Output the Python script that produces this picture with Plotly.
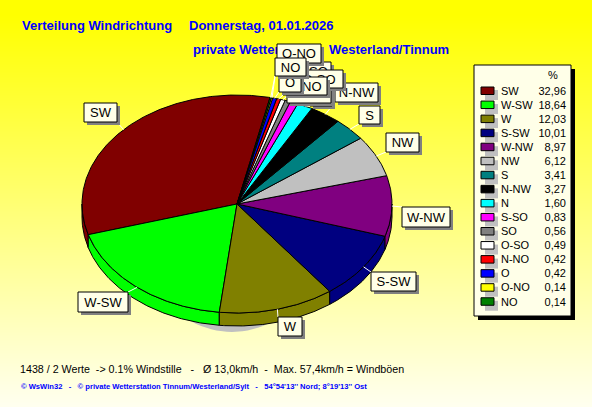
import math
import plotly.graph_objects as go

categories = ["SW","W-SW","W","S-SW","W-NW","NW","S","N-NW","N","S-SO","SO","O-SO","N-NO","O","O-NO","NO"]
values = [32.96,18.64,12.03,10.01,8.97,6.12,3.41,3.27,1.60,0.83,0.56,0.49,0.42,0.42,0.14,0.14]
value_labels = ["32,96","18,64","12,03","10,01","8,97","6,12","3,41","3,27","1,60","0,83","0,56","0,49","0,42","0,42","0,14","0,14"]
colors = ["#800000","#00ff00","#808000","#000080","#800080","#c0c0c0","#008080","#000000",
          "#00ffff","#ff00ff","#808080","#ffffff","#ff0000","#0000ff","#ffff00","#008000"]
label_boxes = {
    "SW":(84,103,117,122),"W-SW":(78,292,128,312),"W":(278,317,302,336),"S-SW":(371,272,416,291),
    "W-NW":(402,207,450,227),"NW":(386,133,419,152),"S":(359,106,380,124),"N-NW":(335,83,378,102),
    "N":(310,88,332,106),"S-SO":(287,84,331,103),"SO":(306,62,331,81),"O-SO":(295,70,343,88),
    "N-NO":(283,77,327,95),"O":(279,73,301,92),"O-NO":(277,44,321,63),"NO":(275,58,306,76),
}
CX, CY, RX, RY, DEPTH = 237, 204, 155, 109, 13
START = 77.7
NBSP = "\u00a0"
title_parts = [("Verteilung Windrichtung",22,27),("Donnerstag, 01.01.2026",189,27),
               ("private Wetterstation",193,51),("Westerland/Tinnum",329,51)]
footer1 = "1438 / 2 Werte  -> 0.1% Windstille   -   Ø 13,0km/h  -  Max. 57,4km/h = Windböen"
footer2 = "© WsWin32   -   © private Wetterstation Tinnum/Westerland/Sylt   -   54°54'13'' Nord; 8°19'13'' Ost"
FONT = "Liberation Sans"

fig = go.Figure()
fig.add_trace(go.Heatmap(x=[0,592], y=[15,407], z=[[0,0],[1,1]], zmin=0, zmax=1, zsmooth="best",
                         showscale=False, hoverinfo="skip",
                         colorscale=[[0,"#ffff00"],[1,"#fffff0"]]))

def poly(xs, ys, fill, line=None, width=1):
    fig.add_trace(go.Scatter(x=xs, y=ys, mode="lines", fill="toself", fillcolor=fill,
                             line=dict(color=line or fill, width=width if line else 0),
                             hoverinfo="skip", showlegend=False))

def rect(x0,y0,x1,y1,fill,line=None):
    poly([x0,x1,x1,x0,x0],[y0,y0,y1,y1,y0],fill,line)

def text(s,x,y,size=11,color="black",pos="middle center",bold=False):
    fig.add_trace(go.Scatter(x=[x],y=[y],mode="text",text=[s.replace(" ",NBSP)],textposition=pos,
                  textfont=dict(family=FONT,size=size,color=color,weight="bold" if bold else "normal"),
                  hoverinfo="skip",showlegend=False))

def pt(a, dy=0):
    r = math.radians(a)
    return CX + RX*math.cos(r), CY - RY*math.sin(r) + dy

for s,x,y in title_parts:
    text(s,x,y,13,"#0000ff","middle right",True)

# ground shadow (only its lower part shows below the pie)
sx, sy = zip(*[(232+100*math.cos(math.radians(a)), 210+122*math.sin(math.radians(a))) for a in range(30,151,3)])
poly(list(sx),list(sy),"#c0c0c0")

# angular extents from the values
total = sum(values)
spans, acc = [], START
for v in values:
    sweep = v/total*360
    spans.append((acc, acc+sweep))
    acc += sweep

def arc(a0,a1,dy=0):
    n = max(2,int((a1-a0)/0.5)+1)
    return [pt(a0+(a1-a0)*i/(n-1),dy) for i in range(n)]

# side wall: the parts of each slice on the lower half of the ellipse
for (a0,a1),c in zip(spans,colors):
    for lo,hi in ((180,360),(540,720)):
        b0,b1 = max(a0,lo),min(a1,hi)
        if b1>b0:
            top = arc(b0,b1); bot = arc(b0,b1,DEPTH)[::-1]
            p = top+bot+[top[0]]
            poly([q[0] for q in p],[q[1] for q in p],c,"#000000")
# top face
for (a0,a1),c in zip(spans,colors):
    p = [(CX,CY)]+arc(a0,a1)+[(CX,CY)]
    poly([q[0] for q in p],[q[1] for q in p],c,"#000000")

# leader lines
for cat,(a0,a1) in zip(categories,spans):
    x0,y0,x1,y1 = label_boxes[cat]
    px,py = pt((a0+a1)/2)
    qx,qy = min(max(px,x0),x1),min(max(py,y0),y1)
    fig.add_trace(go.Scatter(x=[px,qx],y=[py,qy],mode="lines",line=dict(color="white",width=1),
                             hoverinfo="skip",showlegend=False))
# slice labels (order = paint order)
for cat in categories:
    x0,y0,x1,y1 = label_boxes[cat]
    rect(x0+3,y0+3,x1+3,y1+3,"#808080")
    rect(x0,y0,x1,y1,"#ffffe8","#000000")
    text(cat,(x0+x1)/2,(y0+y1)/2+1.5,13)

# legend
rect(478,69,575,320,"#000000")
rect(474,65,571,316,"#ffffe8","#000000")
text("%",553,76,11)
for i,(cat,lab,c) in enumerate(zip(categories,value_labels,colors)):
    y = 91+i*14.05
    rect(485,y-1,498,y+9,"#c0c0c0")
    rect(481,y-4,494,y+3.5,c,"#000000")
    text(cat,501,y+1,11,pos="middle right")
    text(lab,566,y+1,11,pos="middle left")

text(footer1,20,370,10.7,pos="middle right")
text(footer2,21,387,7.6,"#0000ff","middle right",True)

fig.update_layout(width=592,height=407,margin=dict(l=0,r=0,t=0,b=0),showlegend=False,
                  paper_bgcolor="#ffff00",plot_bgcolor="rgba(0,0,0,0)",
                  xaxis=dict(range=[0,592],visible=False,fixedrange=True),
                  yaxis=dict(range=[407,0],visible=False,fixedrange=True))
fig.write_html("out.html",config=dict(displayModeBar=False),
               post_script="document.body.style.margin='0';document.body.style.overflow='hidden';")
